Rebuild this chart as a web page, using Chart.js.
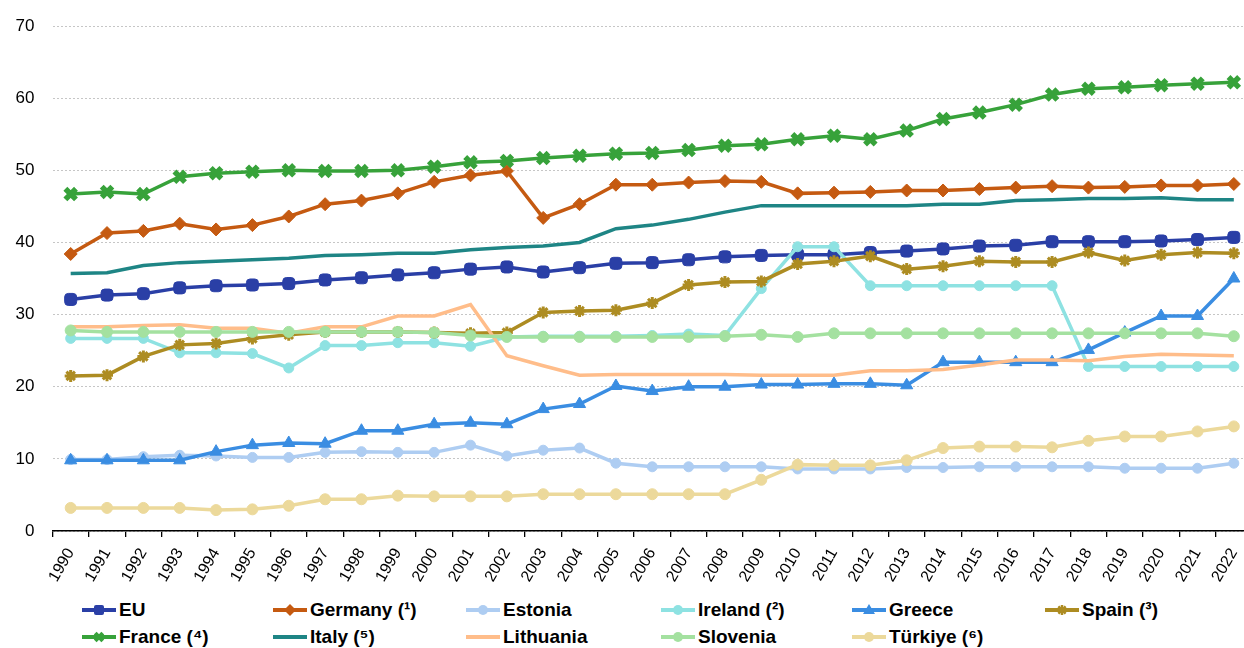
<!DOCTYPE html>
<html>
<head>
<meta charset="utf-8">
<script src="https://cdn.jsdelivr.net/npm/chart.js@4.4.1/dist/chart.umd.min.js"></script>
<style>
  html, body { margin: 0; padding: 0; background: #fff; width: 1244px; height: 648px; overflow: hidden;
    font-family: "Liberation Sans", Arial, Helvetica, sans-serif; }
  #wrap { position: absolute; left: 0; top: 0; width: 1252px; height: 594px; }
  #legend { position: absolute; left: 0; top: 596px; width: 1244px; height: 52px; }
  .item { position: absolute; display: flex; align-items: center; font-weight: bold; font-size: 19px;
    color: #000; white-space: nowrap; height: 24px; }
  .item svg { margin-right: 3px; flex: none; }
</style>
</head>
<body>
<div id="wrap"><canvas id="c" width="1252" height="594"></canvas></div>
<div id="legend"></div>
<script>
// Years on the horizontal axis
const years = ['1990','1991','1992','1993','1994','1995','1996','1997','1998','1999',
  '2000','2001','2002','2003','2004','2005','2006','2007','2008','2009',
  '2010','2011','2012','2013','2014','2015','2016','2017','2018','2019',
  '2020','2021','2022'];

// Vertical axis ticks
const yTicks = [0, 10, 20, 30, 40, 50, 60, 70];

// Series values, one per year
const EU        = [32.1,32.7,32.9,33.7,34.0,34.1,34.3,34.8,35.1,35.5, 35.8,36.3,36.6,35.9,36.5,37.1,37.2,37.6,38.0,38.2, 38.3,38.3,38.6,38.8,39.1,39.5,39.6,40.1,40.1,40.1, 40.2,40.4,40.7];
const Germany   = [38.4,41.3,41.6,42.6,41.8,42.4,43.6,45.3,45.8,46.8, 48.4,49.3,49.9,43.4,45.3,48.0,48.0,48.3,48.5,48.4, 46.8,46.9,47.0,47.2,47.2,47.4,47.6,47.8,47.6,47.7, 47.9,47.9,48.1];
const Estonia   = [9.9,9.9,10.3,10.5,10.4,10.2,10.2,10.9,11.0,10.9, 10.9,11.9,10.4,11.2,11.5,9.4,8.9,8.9,8.9,8.9, 8.6,8.6,8.6,8.8,8.8,8.9,8.9,8.9,8.9,8.7, 8.7,8.7,9.4];
const Ireland   = [26.7,26.7,26.7,24.7,24.7,24.6,22.6,25.7,25.7,26.1, 26.1,25.6,26.9,27.0,27.0,27.0,27.1,27.3,27.1,33.6, 39.4,39.4,34.0,34.0,34.0,34.0,34.0,34.0,22.8,22.8, 22.8,22.8,22.8];
const Greece    = [9.8,9.8,9.8,9.8,11.0,11.9,12.2,12.1,13.9,13.9, 14.8,15.0,14.8,16.9,17.6,20.1,19.4,20.0,20.0,20.3, 20.3,20.4,20.4,20.2,23.4,23.4,23.4,23.4,25.1,27.5, 29.8,29.8,35.0];
const Spain     = [21.5,21.6,24.2,25.8,26.0,26.7,27.2,27.6,27.6,27.6, 27.5,27.4,27.5,30.3,30.5,30.6,31.6,34.1,34.5,34.6, 37.0,37.4,38.1,36.3,36.7,37.4,37.3,37.3,38.6,37.5, 38.3,38.6,38.5];
const France    = [46.7,47.0,46.7,49.1,49.6,49.8,50.0,49.9,49.9,50.0, 50.5,51.1,51.3,51.7,52.0,52.3,52.4,52.8,53.4,53.6, 54.3,54.8,54.3,55.5,57.1,58.0,59.1,60.5,61.3,61.5, 61.8,62.0,62.2];
const Italy     = [35.7,35.8,36.8,37.2,37.4,37.6,37.8,38.2,38.3,38.5, 38.5,39.0,39.3,39.5,40.0,41.9,42.4,43.2,44.2,45.1, 45.1,45.1,45.1,45.1,45.3,45.3,45.8,45.9,46.1,46.1, 46.2,45.9,45.9];
const Lithuania = [28.3,28.3,28.5,28.6,28.1,28.1,27.4,28.3,28.3,29.8, 29.8,31.4,24.3,22.9,21.6,21.7,21.7,21.7,21.7,21.6, 21.6,21.6,22.2,22.2,22.4,23.0,23.7,23.7,23.6,24.2, 24.5,24.4,24.3];
const Slovenia  = [27.8,27.6,27.6,27.6,27.6,27.6,27.6,27.6,27.6,27.6, 27.5,27.1,26.9,26.9,26.9,26.9,26.9,26.9,27.0,27.2, 26.9,27.4,27.4,27.4,27.4,27.4,27.4,27.4,27.4,27.4, 27.4,27.4,27.0];
const Turkiye   = [3.2,3.2,3.2,3.2,2.9,3.0,3.5,4.4,4.4,4.9, 4.8,4.8,4.8,5.1,5.1,5.1,5.1,5.1,5.1,7.1, 9.2,9.1,9.1,9.8,11.5,11.7,11.7,11.6,12.5,13.1, 13.1,13.8,14.5];

// Series labels, in legend order
const seriesLabels = ['EU','Germany (¹)','Estonia','Ireland (²)','Greece','Spain (³)',
  'France (⁴)','Italy (⁵)','Lithuania','Slovenia','Türkiye (⁶)'];
const seriesValues = [EU, Germany, Estonia, Ireland, Greece, Spain, France, Italy, Lithuania, Slovenia, Turkiye];

// Appearance of each series
const styles = [
  { color: '#2a3fa6', point: 'rectRounded', r: 7,   bw: 1 },
  { color: '#c55a11', point: 'rectRot',     r: 6.5, bw: 1 },
  { color: '#aecdf2', point: 'circle',      r: 5,   bw: 1 },
  { color: '#8ee2e2', point: 'circle',      r: 5,   bw: 1 },
  { color: '#3a8de2', point: 'triangle',    r: 7,   bw: 1 },
  { color: '#ad8c22', point: 'star',        r: 6,   bw: 3 },
  { color: '#37a23a', point: 'crossRot',    r: 7.5, bw: 5.5 },
  { color: '#1e8585', point: false,         r: 0,   bw: 1 },
  { color: '#ffbd8a', point: false,         r: 0,   bw: 1 },
  { color: '#a4e1a0', point: 'circle',      r: 5.5, bw: 1 },
  { color: '#ecd99b', point: 'circle',      r: 5.5, bw: 1 }
];

const FONT = '"Liberation Sans", Arial, Helvetica, sans-serif';

const datasets = seriesValues.map((vals, i) => {
  const s = styles[i];
  return {
    label: seriesLabels[i],
    data: vals,
    borderColor: s.color,
    backgroundColor: s.color,
    borderWidth: 3.5,
    tension: 0,
    pointStyle: s.point || 'circle',
    pointRadius: s.point ? s.r : 0,
    pointHoverRadius: s.point ? s.r : 0,
    pointBackgroundColor: s.color,
    pointBorderColor: s.color,
    pointBorderWidth: s.bw,
    // later series are painted over earlier ones
    order: seriesValues.length - i
  };
});

new Chart(document.getElementById('c'), {
  type: 'line',
  data: { labels: years, datasets },
  options: {
    responsive: false,
    animation: false,
    events: [],
    layout: { autoPadding: false, padding: { top: 26, left: 0, right: 0, bottom: 0 } },
    plugins: { legend: { display: false }, tooltip: { enabled: false } },
    scales: {
      x: {
        offset: true,
        grid: { offset: true, drawOnChartArea: false, drawTicks: true, tickLength: 6, color: '#000', lineWidth: 1.3 },
        border: { display: true, color: '#000', width: 1.6 },
        ticks: { autoSkip: false, maxRotation: 60, minRotation: 60, padding: 8, color: '#000',
                 font: { family: FONT, size: 16 } },
        afterFit(scale) { scale.height = 63; scale.paddingLeft = 0; scale.paddingRight = 0; }
      },
      y: {
        min: 0, max: 70,
        afterBuildTicks(scale) { scale.ticks = yTicks.map(v => ({ value: v })); },
        ticks: { padding: 18, color: '#000', font: { family: FONT, size: 17 } },
        grid: { drawTicks: false, color: '#c6c6c6', lineWidth: 1 },
        border: { display: false, dash: [2, 2] },
        afterFit(scale) { scale.width = 52.5; scale.paddingTop = 0; scale.paddingBottom = 0; }
      }
    }
  }
});

// Legend: two rows of six fixed-width columns
const colX = [82, 273, 466, 661, 852, 1045];
const rowY = [2, 29];

function markerSvg(s) {
  const w = 34, h = 18, cx = 17, cy = 9, c = s.color;
  let shape = '';
  if (s.point === 'rectRounded') shape = `<rect x="${cx-5}" y="${cy-5}" width="10" height="10" rx="2" fill="${c}"/>`;
  else if (s.point === 'rectRot') shape = `<polygon points="${cx},${cy-6} ${cx+6},${cy} ${cx},${cy+6} ${cx-6},${cy}" fill="${c}"/>`;
  else if (s.point === 'circle') shape = `<circle cx="${cx}" cy="${cy}" r="5" fill="${c}"/>`;
  else if (s.point === 'triangle') shape = `<polygon points="${cx},${cy-6} ${cx+6},${cy+4} ${cx-6},${cy+4}" fill="${c}"/>`;
  else if (s.point === 'star') {
    const r = 5, d = 3.6;
    shape = `<g stroke="${c}" stroke-width="2.5">
      <line x1="${cx-d}" y1="${cy-d}" x2="${cx+d}" y2="${cy+d}"/>
      <line x1="${cx-d}" y1="${cy+d}" x2="${cx+d}" y2="${cy-d}"/>
      <line x1="${cx-r}" y1="${cy}" x2="${cx+r}" y2="${cy}"/>
      <line x1="${cx}" y1="${cy-r}" x2="${cx}" y2="${cy+r}"/></g>`;
  } else if (s.point === 'crossRot') {
    const d = 3.8;
    shape = `<g stroke="${c}" stroke-width="4">
      <line x1="${cx-d}" y1="${cy-d}" x2="${cx+d}" y2="${cy+d}"/>
      <line x1="${cx-d}" y1="${cy+d}" x2="${cx+d}" y2="${cy-d}"/></g>`;
  }
  return `<svg width="${w}" height="${h}" viewBox="0 0 ${w} ${h}">
    <line x1="0" y1="${cy}" x2="${w}" y2="${cy}" stroke="${c}" stroke-width="4"/>${shape}</svg>`;
}

const legend = document.getElementById('legend');
seriesLabels.forEach((lab, i) => {
  const el = document.createElement('div');
  el.className = 'item';
  el.style.left = colX[i % 6] + 'px';
  el.style.top = rowY[Math.floor(i / 6)] + 'px';
  el.innerHTML = markerSvg(styles[i]) + '<span></span>';
  el.querySelector('span').textContent = lab;
  legend.appendChild(el);
});
</script>
</body>
</html>
